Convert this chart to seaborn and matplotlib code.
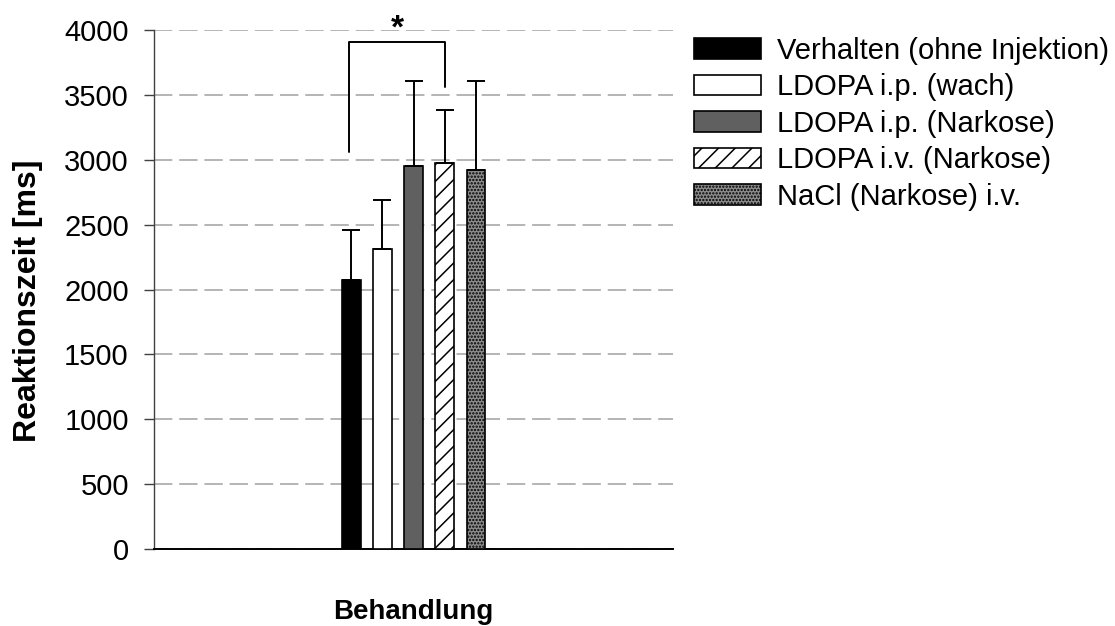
import matplotlib
matplotlib.use("Agg")
import matplotlib.pyplot as plt
import matplotlib.patches as mpatches
import seaborn as sns
import pandas as pd
import numpy as np

# ---- data ----
treatments = ["Verhalten (ohne Injektion)", "LDOPA i.p. (wach)", "LDOPA i.p. (Narkose)",
              "LDOPA i.v. (Narkose)", "NaCl (Narkose) i.v."]
means = [2070, 2310, 2950, 2975, 2925]
errors = [385, 380, 655, 405, 680]
yticks = [0, 500, 1000, 1500, 2000, 2500, 3000, 3500, 4000]
xlabel = "Behandlung"
ylabel = "Reaktionszeit [ms]"
bracket_left_y = 3060
bracket_right_y = 3560
bracket_top_y = 3910
star_text = "*"

# ---- styles ----
facecolors = ["#000000", "#ffffff", "#606060", "#ffffff", "#8c8c8c"]
hatches = [None, None, None, "//", "....."]

sns.set_theme(style="white")
plt.rcParams["font.family"] = ["Liberation Sans", "DejaVu Sans"]
plt.rcParams["hatch.linewidth"] = 1.1
plt.rcParams["text.color"] = "black"
plt.rcParams["axes.labelcolor"] = "black"
plt.rcParams["ytick.color"] = "black"
plt.rcParams["xtick.color"] = "black"

df = pd.DataFrame({"group": [""] * len(treatments), "Behandlung": treatments, "value": means})

fig = plt.figure(figsize=(11.15, 6.26), dpi=100)
ax = fig.add_axes([0.138, 0.123, 0.466, 0.829])

sns.barplot(data=df, x="group", y="value", hue="Behandlung", hue_order=treatments,
            palette=facecolors, width=0.3, gap=0.4, errorbar=None, legend=False,
            edgecolor="black", linewidth=1.2, ax=ax, zorder=3)

bars = ax.patches[:len(treatments)]
centers = []
for p, fc, h in zip(bars, facecolors, hatches):
    p.set_facecolor(fc)
    p.set_edgecolor("black")
    if h:
        p.set_hatch(h)
    centers.append(p.get_x() + p.get_width() / 2)

ax.errorbar(centers, means, yerr=[np.zeros(len(errors)), errors], fmt="none",
            ecolor="black", elinewidth=1.4, capsize=6.5, capthick=1.4, zorder=4)

# significance bracket
xl, xr = centers[0] - 0.004, centers[3]
ax.plot([xl, xl, xr, xr], [bracket_left_y, bracket_top_y, bracket_top_y, bracket_right_y],
        color="black", lw=1.4, zorder=5, clip_on=False)
ax.text((xl + xr) / 2, 3945, star_text, ha="center", va="baseline", fontsize=24,
        fontweight="bold", clip_on=False)

ax.set_xlim(-0.5, 0.5)
ax.set_ylim(0, 4000)
ax.set_yticks(yticks)
ax.set_yticklabels([str(t) for t in yticks], fontsize=21)
ax.set_xticks([])
ax.yaxis.grid(True, color="#a0a0a0", lw=1.1, linestyle=(0, (12, 4.5)))
ax.set_axisbelow(True)
ax.tick_params(axis="y", left=True, length=7, width=1, color="#404040", labelcolor="black", pad=11)
for s in ["top", "right"]:
    ax.spines[s].set_visible(False)
ax.spines["left"].set_color("#404040")
ax.spines["left"].set_linewidth(1.0)
ax.spines["bottom"].set_color("black")
ax.spines["bottom"].set_linewidth(1.4)

ax.set_xlabel(xlabel, fontsize=20, fontweight="bold", labelpad=36)
ax.set_ylabel(ylabel, fontsize=23, fontweight="bold")
ax.yaxis.set_label_coords(-0.213, 0.478)

handles = [mpatches.Patch(facecolor=fc, edgecolor="black", hatch=h, linewidth=1.2, label=t)
           for t, fc, h in zip(treatments, facecolors, hatches)]
fig.legend(handles=handles, loc="upper left", bbox_to_anchor=(0.612, 0.960),
           frameon=False, fontsize=21, handlelength=2.3, handleheight=0.7,
           handletextpad=0.55, labelspacing=0.29, borderaxespad=0)

fig.savefig("out.png", dpi=100)
